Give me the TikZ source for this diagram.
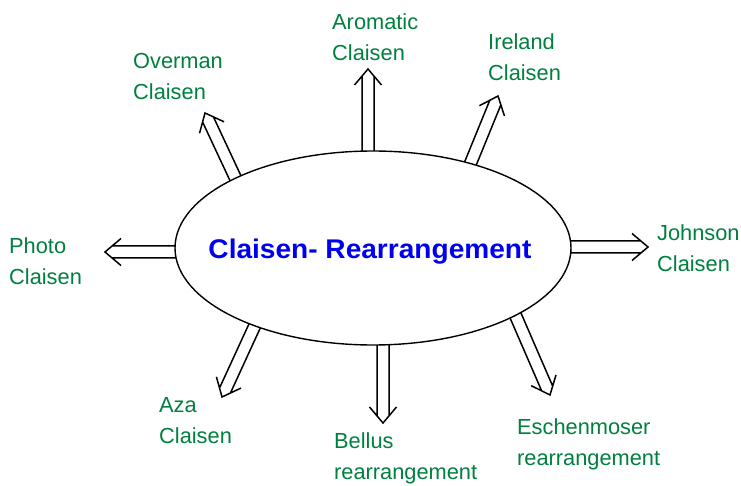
\documentclass[tikz,border=0pt]{standalone}
\usepackage{fontspec}
\setmainfont{Liberation Sans}
\usetikzlibrary{shapes.geometric,calc}
\definecolor{lblgreen}{RGB}{0,128,62}
\definecolor{ttlblue}{RGB}{0,0,240}
\newcommand\dblarr[2]{%
  \draw[arr] let \p1=($(#2)-(#1)$), \n1={atan2(\y1,\x1)}, \n2={veclen(\x1,\y1)} in
    [shift={(#1)}, rotate=\n1]
    (0pt,6pt) -- (\n2-7pt,6pt) (0pt,-6pt) -- (\n2-7pt,-6pt)
    (\n2-16pt,13.5pt) -- (\n2,0pt) -- (\n2-16pt,-13.5pt);}
\tikzset{
  arr/.style={line width=1.5pt, line join=miter, black},
  lbl/.style={font=\fontsize{21.8}{31}\selectfont, text=lblgreen, align=left, anchor=west, inner sep=0pt},
  ellbox/.style={ellipse, draw, line width=1.4pt, fill=white, minimum width=396pt, minimum height=194pt, inner sep=0pt},
  ttl/.style={font=\fontsize{27}{30}\bfseries\selectfont, text=ttlblue, xscale=1.04}
}
\begin{document}
\begin{tikzpicture}[x=1pt,y=-1pt]
\useasboundingbox (0,0) rectangle (741,486);
% arrow start points (inside ellipse edge) and tips
\coordinate (s1) at (368,158); \coordinate (t1) at (368,69);
\coordinate (s2) at (469,167); \coordinate (t2) at (498,96);
\coordinate (s3) at (565,247); \coordinate (t3) at (648,247);
\coordinate (s4) at (514,312); \coordinate (t4) at (550,395);
\coordinate (s5) at (383,338); \coordinate (t5) at (383,423);
\coordinate (s6) at (256,323); \coordinate (t6) at (222,397);
\coordinate (s7) at (183,252); \coordinate (t7) at (105,252);
\coordinate (s8) at (241,190); \coordinate (t8) at (205,113);
\dblarr{s1}{t1}
\dblarr{s2}{t2}
\dblarr{s3}{t3}
\dblarr{s4}{t4}
\dblarr{s5}{t5}
\dblarr{s6}{t6}
\dblarr{s7}{t7}
\dblarr{s8}{t8}
\node[ellbox] (E) at (373,248) {};
\node[ttl] (T) at (370,252) {Claisen- Rearrangement};
\node[lbl] (L1) at (332,37) {Aromatic\\Claisen};
\node[lbl] (L2) at (488,57) {Ireland\\Claisen};
\node[lbl] (L3) at (657,248) {Johnson\\Claisen};
\node[lbl] (L4) at (517,444) {Eschenmoser\\rearrangement};
\node[lbl] (L5) at (334,458) {Bellus\\rearrangement};
\node[lbl] (L6) at (159,421) {Aza\\Claisen};
\node[lbl] (L7) at (9,261) {Photo\\Claisen};
\node[lbl] (L8) at (133,76) {Overman\\Claisen};
\end{tikzpicture}
\end{document}
